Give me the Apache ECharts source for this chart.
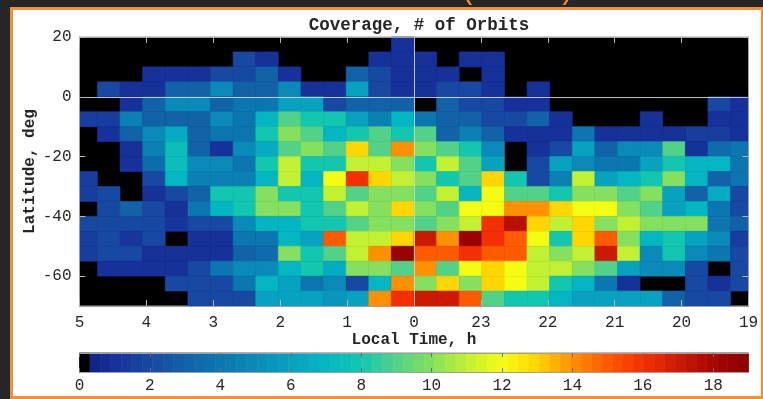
<!DOCTYPE html>
<html>
<head>
<meta charset="utf-8">
<script src="https://cdn.jsdelivr.net/npm/echarts@6/dist/echarts.min.js"></script>
<style>
  html, body { margin: 0; padding: 0; background: #262626; }
  #frame {
    position: absolute; left: 10px; top: 7px; width: 748px; height: 386px;
    background: #ffffff; border: 3px solid #f28f3b;
  }
  #main { position: absolute; left: 0; top: 0; width: 763px; height: 399px; }
</style>
</head>
<body>
<div id="frame"></div>
<div id="main"></div>
<script>
// Orbit coverage counts, one row per 5-degree latitude bin (north to south),
// one column per local-time bin running from 5 h back through midnight to 19 h.
const LAT_CENTERS = [17.5, 12.5, 7.5, 2.5, -2.5, -7.5, -12.5, -17.5, -22.5,
                     -27.5, -32.5, -37.5, -42.5, -47.5, -52.5, -57.5, -62.5, -67.5];

const COUNTS = [
  [0,0,0,0,0,0,0,0,0,0, 0,0,0,0,1, 0,0,0,0,0, 0,0,0,0,0, 0,0,0,0,0],
  [0,0,0,0,0,0,0,2,1,0, 0,0,0,1,1, 1,0,1,1,0, 0,0,0,0,0, 0,0,0,0,0],
  [0,0,0,1,1,1,2,2,3,1, 0,0,3,2,1, 1,1,0,1,0, 0,0,0,0,0, 0,0,0,0,0],
  [0,2,1,1,3,3,5,3,3,5, 1,1,6,2,1, 1,2,2,1,0, 1,0,0,0,0, 0,0,0,0,0],
  [0,0,1,3,5,5,3,4,4,6, 6,2,3,3,3, 0,3,2,2,1, 1,0,0,0,0, 0,0,0,2,1],
  [1.5,1.5,4.5,3,3,3,5,4,7,9, 8,8,6,4.5,7, 4,3,3,2,2, 3,1,0,0,0, 1,0,0,1,1],
  [0,1,3,5,6.5,3,4,4,8,10, 9,7,8,9,8, 9,3,4.5,3,1, 1,1,4,1,1, 1,1,1.5,1.5,1],
  [0,0,1,4.5,7.5,3,1,5,6.5,9, 10,9,13,9,14, 10,9,8,5,0, 1,2,6,3,5, 5,9,1,3.5,4],
  [0,0,1,3.5,7.5,5,5,4,8,11, 8,8,11,11,10, 8,11,9,6,0, 2,6,5,4,4, 6,8,7,7,4],
  [1.5,0,0,2,7,4.5,4.5,4.5,7,11, 7,12,16,13,11, 10,8,9,13,8, 2,4.5,11,6,7, 8,10,7,3,4],
  [1.5,2,0,1,2,3,8,8,10,8, 8,11,9,10,10, 9,11,7,12,9, 9,8,10,10,9, 10,6,3,6.5,2],
  [0,2,3,2,1,4,7,8,10,10, 8,9,11,10,13, 10,9,12,12,14, 14,13,12,12,10, 9,6,7,4,2],
  [2,2,2,2,1.2,2,2,5,7,7, 8,8,9,10,10, 9,10,11,16,17.5, 13,11,13,10,11, 10,10,10,4,3],
  [1.5,2,1.2,2,0,1,1,4,4,7, 6,15,11,11,13, 17,14,18.5,16,15, 12,8,13,15,10, 7,8,6,5,1.5],
  [1.5,2,2,1,1,1,1,3,3.5,10, 8,9,11,14,18.5, 15,15,16,15,15, 11,10,11,17,11, 5,8,5,4,2],
  [0,1,1,1,1,2,4,5,5,7, 8,6.5,10,10,9, 14,9,12,13,12, 11,11,10,9,6, 5,5,2,0,2],
  [0,0,0,0,2,2,2,4,7,6, 4,5,2,7,14, 10,13,10,13,12, 11,8,7,4,1, 0,0,2,1,2],
  [0,0,0,0,0,2,2,2,6,6, 6,5.5,6,14,16, 17,17,15,9,8, 8,7,6,6,6, 6,3,2,2,0]
];

// Axis tick labels
const LT_TICK_LABELS = ['5', '4', '3', '2', '1', '0', '23', '22', '21', '20', '19'];
const LAT_TICKS = [20, 0, -20, -40, -60];
const CBAR_TICKS = [0, 2, 4, 6, 8, 10, 12, 14, 16, 18];

// Colour scale: one entry per whole count from 0 to 19
const CMAP = ['#0d1b7a', '#17319a', '#1748a2', '#1262a8', '#0c76b0', '#0a8ab8',
              '#07a2c0', '#03b6c2', '#12c6b0', '#52d288', '#84e05e', '#c2f032',
              '#f4fc14', '#ffd602', '#ff9000', '#ff5a00', '#f43000', '#cc1a00',
              '#a80600', '#880000'];

// Bin geometry (hours relative to midnight, degrees)
const LT_BIN = 0.338;
const LAT_BIN = 5;
const CBAR_MAX = 19;
const CBAR_LEVELS = 64;

const MONO = "'Liberation Mono', 'DejaVu Sans Mono', monospace";
const INK = '#262626';
const FRAME = '#a0a0a0';

// Local time is stored as signed hours from midnight: -5 is 05 h, +5 is 19 h.
const cells = [];
COUNTS.forEach((row, r) => {
  row.forEach((v, c) => {
    if (v > 0) cells.push([(c - (row.length / 2 - 0.5)) * LT_BIN, LAT_CENTERS[r], v]);
  });
});

const levels = [];
for (let i = 0; i < CBAR_LEVELS; i++) {
  const lo = i * CBAR_MAX / CBAR_LEVELS, hi = (i + 1) * CBAR_MAX / CBAR_LEVELS;
  levels.push([lo, hi, (lo + hi) / 2]);
}

function renderCell(params, api) {
  const x = api.value(0), y = api.value(1);
  const a = api.coord([x - LT_BIN / 2, y + LAT_BIN / 2]);
  const b = api.coord([x + LT_BIN / 2, y - LAT_BIN / 2]);
  const cs = params.coordSys;
  const shape = echarts.graphic.clipRectByRect(
    { x: a[0], y: a[1], width: b[0] - a[0], height: b[1] - a[1] },
    { x: cs.x, y: cs.y, width: cs.width, height: cs.height });
  if (!shape) return;
  const color = api.visual('color');
  return { type: 'rect', shape, style: { fill: color, stroke: color, lineWidth: 0.6 } };
}

function renderLevel(params, api) {
  const a = api.coord([api.value(0), 1]);
  const b = api.coord([api.value(1), 0]);
  const color = params.dataIndex === 0 ? '#000000' : api.visual('color');
  return {
    type: 'rect',
    shape: { x: a[0], y: a[1], width: b[0] - a[0], height: b[1] - a[1] },
    style: { fill: color, stroke: color, lineWidth: 0.6 }
  };
}

const edgeLine = { show: true, onZero: false, lineStyle: { color: FRAME, width: 1 } };
const tickStyle = { show: true, inside: true, length: 6, lineStyle: { color: '#b4b4b4', width: 1 } };
const cbarTick = { show: true, inside: true, length: 4, lineStyle: { color: '#6a6a6a', width: 1 } };
const labelStyle = { fontFamily: MONO, fontSize: 16, color: INK };
const nameStyle = { fontFamily: MONO, fontSize: 16, fontWeight: 'bold', color: INK };

const chart = echarts.init(document.getElementById('main'), null, { renderer: 'canvas' });
chart.setOption({
  animation: false,
  backgroundColor: 'transparent',
  title: {
    text: 'Coverage, # of Orbits',
    left: 414, top: 12, textAlign: 'center',
    textStyle: { fontFamily: MONO, fontSize: 17.5, fontWeight: 'bold', color: INK }
  },
  graphic: [
    { type: 'text', left: 460, top: -22, style: { text: '(', font: '28px ' + MONO, fill: '#f28f3b' } },
    { type: 'text', left: 558, top: -22, style: { text: ')', font: '28px ' + MONO, fill: '#f28f3b' } }
  ],
  grid: [
    { left: 79.5, top: 37, width: 669, height: 269, show: true,
      backgroundColor: '#000000', borderColor: FRAME, borderWidth: 1 },
    { left: 79.5, top: 353, width: 669, height: 19, show: true,
      backgroundColor: 'transparent', borderColor: FRAME, borderWidth: 1 }
  ],
  visualMap: {
    show: false, type: 'continuous', min: 0, max: CBAR_MAX, dimension: 2,
    seriesIndex: [0, 1], inRange: { color: CMAP }
  },
  xAxis: [
    { gridIndex: 0, type: 'value', min: -5, max: 5, interval: 1, position: 'bottom', z: 10,
      axisLine: edgeLine, axisTick: tickStyle, splitLine: { show: false },
      axisLabel: Object.assign({ margin: 9, formatter: v => LT_TICK_LABELS[Math.round(v + 5)] }, labelStyle),
      name: 'Local Time, h', nameLocation: 'middle', nameGap: 26, nameMoveOverlap: false,
      nameTextStyle: nameStyle },
    { gridIndex: 0, type: 'value', min: -5, max: 5, interval: 1, position: 'top', z: 10,
      axisLine: edgeLine, axisTick: tickStyle, axisLabel: { show: false }, splitLine: { show: false } },
    { gridIndex: 1, type: 'value', min: 0, max: CBAR_MAX, position: 'bottom', z: 10,
      axisLine: edgeLine, splitLine: { show: false },
      axisTick: Object.assign({}, cbarTick, { customValues: CBAR_TICKS }),
      axisLabel: Object.assign({ margin: 6, customValues: CBAR_TICKS }, labelStyle) },
    { gridIndex: 1, type: 'value', min: 0, max: CBAR_MAX, position: 'top', z: 10,
      axisLine: edgeLine, splitLine: { show: false },
      axisTick: Object.assign({}, cbarTick, { customValues: CBAR_TICKS }),
      axisLabel: { show: false } }
  ],
  yAxis: [
    { gridIndex: 0, type: 'value', min: -70, max: 20, position: 'left', z: 10,
      axisLine: edgeLine, splitLine: { show: false },
      axisTick: Object.assign({}, tickStyle, { customValues: LAT_TICKS }),
      axisLabel: Object.assign({ margin: 8, customValues: LAT_TICKS }, labelStyle),
      name: 'Latitude, deg', nameLocation: 'middle', nameGap: 42, nameRotate: 90,
      nameMoveOverlap: false, nameTextStyle: nameStyle },
    { gridIndex: 0, type: 'value', min: -70, max: 20, position: 'right', z: 10,
      axisLine: edgeLine, splitLine: { show: false },
      axisTick: Object.assign({}, tickStyle, { customValues: LAT_TICKS }), axisLabel: { show: false } },
    { gridIndex: 1, type: 'value', min: 0, max: 1, show: false }
  ],
  series: [
    { type: 'custom', xAxisIndex: 0, yAxisIndex: 0, renderItem: renderCell,
      data: cells, encode: { x: 0, y: 1 }, z: 2,
      markLine: {
        silent: true, symbol: ['none', 'none'], label: { show: false }, z: 5,
        lineStyle: { color: '#d4d4d4', width: 1, type: 'solid', opacity: 0.9 },
        data: [{ xAxis: 0 }, { yAxis: 0 }]
      } },
    { type: 'custom', xAxisIndex: 2, yAxisIndex: 2, renderItem: renderLevel,
      data: levels, encode: { x: [0, 1] }, z: 2 }
  ]
});
</script>
</body>
</html>
